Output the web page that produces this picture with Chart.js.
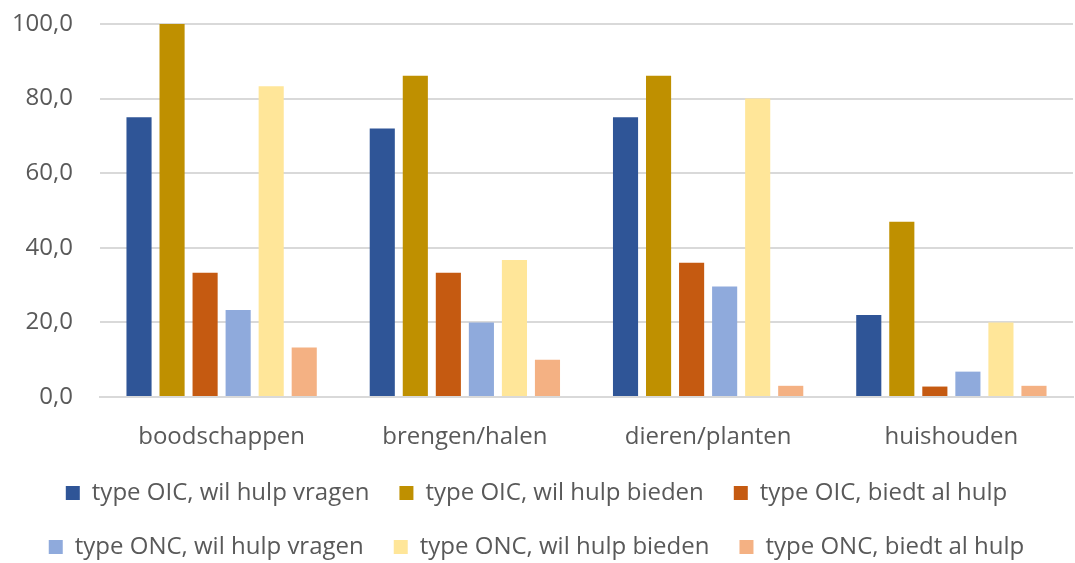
<!DOCTYPE html>
<html>
<head>
<meta charset="utf-8">
<script src="https://cdn.jsdelivr.net/npm/chart.js@4/dist/chart.umd.min.js"></script>
<style>
  body { margin: 0; background: #fff; overflow: hidden; }
  #wrap { width: 1075px; height: 569px; }
</style>
</head>
<body>
<div id="wrap"><canvas id="grafico"></canvas></div>
<script>
const categorieen = ['boodschappen', 'brengen/halen', 'dieren/planten', 'huishouden'];
const reeksNamen = [
    'type OIC, wil hulp vragen',
    'type OIC, wil hulp bieden',
    'type OIC, biedt al hulp',
    'type ONC, wil hulp vragen',
    'type ONC, wil hulp bieden',
    'type ONC, biedt al hulp'
];
const oicVragen = [75.0, 72.0, 75.0, 22.0];
const oicBieden = [100.0, 86.1, 86.1, 47.0];
const oicBiedtAl = [33.3, 33.3, 36.0, 2.8];
const oncVragen = [23.3, 20.0, 29.6, 6.8];
const oncBieden = [83.3, 36.7, 80.0, 20.0];
const oncBiedtAl = [13.3, 10.0, 3.0, 3.0];
const yTicks = [0, 20, 40, 60, 80, 100];

const kleuren = ['#2F5597', '#BF9000', '#C55A11', '#8FAADC', '#FFE699', '#F4B183'];
const reeksen = [oicVragen, oicBieden, oicBiedtAl, oncVragen, oncBieden, oncBiedtAl];

const ctx = document.getElementById('grafico').getContext('2d');
new Chart(ctx, {
    type: 'bar',
    data: {
        labels: categorieen,
        datasets: reeksen.map((d, i) => ({
            label: reeksNamen[i],
            data: d,
            backgroundColor: kleuren[i],
            categoryPercentage: 0.815,
            barPercentage: 0.76
        }))
    },
    options: {
        responsive: true,
        maintainAspectRatio: false,
        animation: false,
        layout: { padding: { left: 0, right: 2, top: 24, bottom: 0 } },
        plugins: {
            legend: {
                position: 'bottom',
                labels: {
                    color: '#595959',
                    font: { family: 'Open Sans', size: 24 },
                    boxWidth: 14,
                    boxHeight: 14,
                    padding: 30
                }
            },
            tooltip: { enabled: false }
        },
        scales: {
            x: {
                grid: { display: false },
                border: { color: '#d9d9d9', width: 2 },
                afterFit: axis => { axis.height = 54; },
                ticks: { color: '#595959', font: { family: 'Open Sans', size: 24 }, padding: 18 }
            },
            y: {
                min: 0,
                max: 100,
                afterBuildTicks: axis => { axis.ticks = yTicks.map(v => ({ value: v })); },
                afterFit: axis => { axis.width = 100; axis.paddingTop = 0; axis.paddingBottom = 0; },
                grid: { color: '#d9d9d9', lineWidth: 2, drawTicks: false },
                border: { display: false },
                ticks: {
                    color: '#595959',
                    font: { family: 'Open Sans', size: 24 },
                    padding: 27,
                    callback: v => v.toFixed(1).replace('.', ',')
                }
            }
        }
    }
});
</script>
</body>
</html>
